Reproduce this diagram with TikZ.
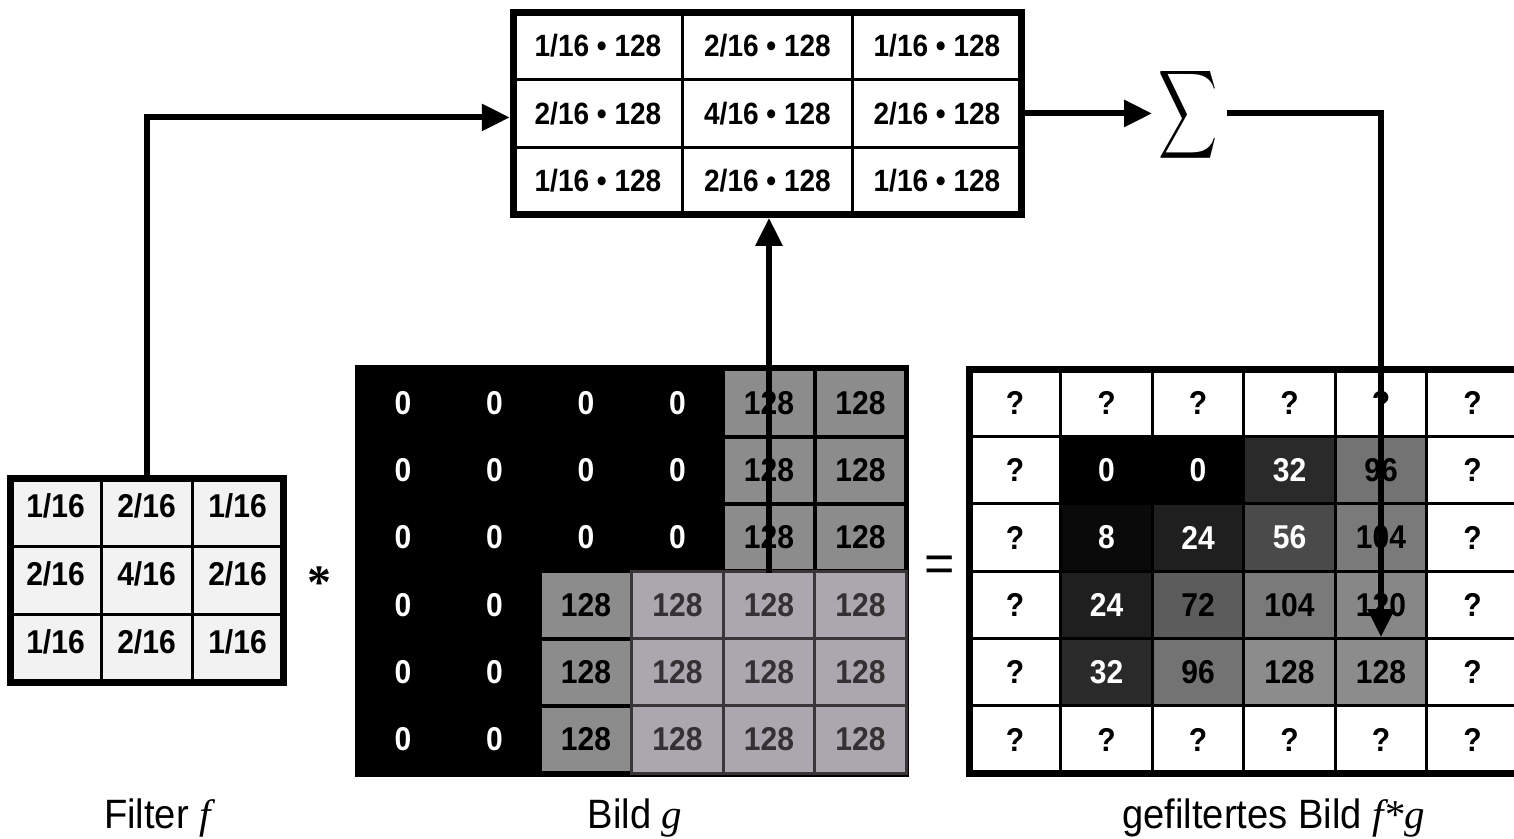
\documentclass[tikz,border=0pt]{standalone}
\usepackage{fontspec}
\setmainfont{Liberation Sans}
\newfontfamily\tms{Liberation Serif}
\newfontfamily\cellfont[FakeStretch=0.91]{Liberation Sans}
\newfontfamily\labfont[FakeStretch=0.93]{Liberation Sans}
\usetikzlibrary{arrows.meta}
\definecolor{gmid}{gray}{0.55}
\definecolor{glight}{RGB}{170,168,174}
\definecolor{gline}{RGB}{58,53,56}
\definecolor{gtext}{RGB}{52,48,51}
\definecolor{ffill}{gray}{0.95}
\definecolor{v0}{gray}{0}
\definecolor{v8}{gray}{0.04}
\definecolor{v24}{gray}{0.12}
\definecolor{v32}{gray}{0.165}
\definecolor{v56}{gray}{0.29}
\definecolor{v72}{gray}{0.36}
\definecolor{v96}{gray}{0.45}
\definecolor{v104}{gray}{0.48}
\definecolor{v120}{gray}{0.53}
\definecolor{v128}{gray}{0.55}
\begin{document}
\begin{tikzpicture}[x=0.5pt,y=-0.5pt,
  num/.style={font=\cellfont\fontsize{16.5}{16.5}\selectfont\bfseries},
  thin/.style={draw=black,line width=1.5pt,inner sep=0pt},
  outer/.style={draw=black,line width=3.5pt,inner sep=0pt,fill=none},
  pcell/.style={thin,fill=white,minimum width=84.75pt,minimum height=33.65pt,font=\cellfont\fontsize{15.4}{15.4}\selectfont\bfseries},
  fcell/.style={thin,num,fill=ffill,minimum width=45.5pt,minimum height=34pt,text depth=6pt},
  gcell/.style={inner sep=0pt,num,minimum width=45.75pt,minimum height=33.65pt},
  gk/.style={gcell,fill=black,text=white},
  gm/.style={gcell,fill=gmid,draw=black,line width=2pt,text=black},
  gl/.style={gcell,fill=glight,draw=gline,line width=1.5pt,text=gtext},
  hcell/.style={thin,num,minimum width=45.75pt,minimum height=33.65pt},
  lab/.style={anchor=base,font=\labfont\fontsize{20.5}{21}\selectfont},
  arr/.style={line width=3pt,-{Triangle[length=14pt,width=13pt]}}]
\useasboundingbox (0,0) rectangle (1514,839);
\fill[white] (0,0) rectangle (1514,839);

% ---------- top product box ----------
\foreach \r/\row in {1/{1/16,2/16,1/16},2/{2/16,4/16,2/16},3/{1/16,2/16,1/16}}{
  \foreach \v [count=\c] in \row {
    \node[pcell] (p-\r-\c) at ({598+(\c-1)*169.5},{46.15+(\r-1)*67.3}) {\v\ \textbullet\ 128};
  }
}
\node[outer,minimum width=254.25pt,minimum height=100.95pt] (prod) at (767.5,113.45) {};

% ---------- filter ----------
\foreach \r/\row in {1/{1/16,2/16,1/16},2/{2/16,4/16,2/16},3/{1/16,2/16,1/16}}{
  \foreach \v [count=\c] in \row {
    \node[fcell] (f-\r-\c) at ({55.5+(\c-1)*91},{512+(\r-1)*68}) {\v};
  }
}
\node[outer,minimum width=136.5pt,minimum height=102pt] (fbox) at (146.5,580) {};

% ---------- operators ----------
\node[anchor=base,inner sep=0pt,font=\tms\bfseries\fontsize{24}{24}\selectfont] (ast) at (319,598.5) {*};
\node[inner sep=0pt,font=\fontsize{26}{26}\selectfont] (eq) at (939.5,569) {=};

% ---------- image g ----------
\node[fill=black,inner sep=0pt,minimum width=277pt,minimum height=206pt] (gbg) at (632,571) {};
\foreach \r/\row in {
  1/{gk/0,gk/0,gk/0,gk/0,gm/128,gm/128},
  2/{gk/0,gk/0,gk/0,gk/0,gm/128,gm/128},
  3/{gk/0,gk/0,gk/0,gk/0,gm/128,gm/128},
  4/{gk/0,gk/0,gm/128,gl/128,gl/128,gl/128},
  5/{gk/0,gk/0,gm/128,gl/128,gl/128,gl/128},
  6/{gk/0,gk/0,gm/128,gl/128,gl/128,gl/128}}{
  \foreach \s/\v [count=\c] in \row {
    \node[\s] (g-\r-\c) at ({403+(\c-1)*91.5},{403+(\r-1)*67.3}) {\v};
  }
}

% ---------- filtered image ----------
\foreach \r/\row in {
  1/{white/black/?,white/black/?,white/black/?,white/black/?,white/black/?,white/black/?},
  2/{white/black/?,v0/white/0,v0/white/0,v32/white/32,v96/black/96,white/black/?},
  3/{white/black/?,v8/white/8,v24/white/24,v56/white/56,v104/black/104,white/black/?},
  4/{white/black/?,v24/white/24,v72/black/72,v104/black/104,v120/black/120,white/black/?},
  5/{white/black/?,v32/white/32,v96/black/96,v128/black/128,v128/black/128,white/black/?},
  6/{white/black/?,white/black/?,white/black/?,white/black/?,white/black/?,white/black/?}}{
  \foreach \fc/\tc/\v [count=\c] in \row {
    \node[hcell,fill=\fc,text=\tc] (h-\r-\c) at ({1015+(\c-1)*91.5},{403+(\r-1)*67.3}) {\v};
  }
}
\node[outer,minimum width=274.5pt,minimum height=201.9pt] (hbox) at (1243.75,571.25) {};

% ---------- sum ----------
\node[inner sep=0pt] (sum) at (1188,115) {\scalebox{2.05}[3.1]{$\displaystyle\sum$}};

% ---------- labels ----------
\node[lab] (lf) at (157.5,828) {Filter {\tms\itshape f}};
\node[lab] (lg) at (635,828) {Bild {\tms\itshape g}};
\node[lab] (lh) at (1273.5,828) {gefiltertes Bild {\tms\itshape f*g}};

% ---------- connectors ----------
\draw[arr] (fbox.north) |- ([yshift=-2pt]prod.west);
\draw[arr] (g-3-5.south) -- (g-3-5.south |- prod.south);
\draw[arr] (prod.east) -- ([xshift=-3pt]prod.east -| sum.west);
\draw[arr] ([xshift=4.5pt]sum.east |- prod.east) -| (h-5-5.north);
\end{tikzpicture}
\end{document}
